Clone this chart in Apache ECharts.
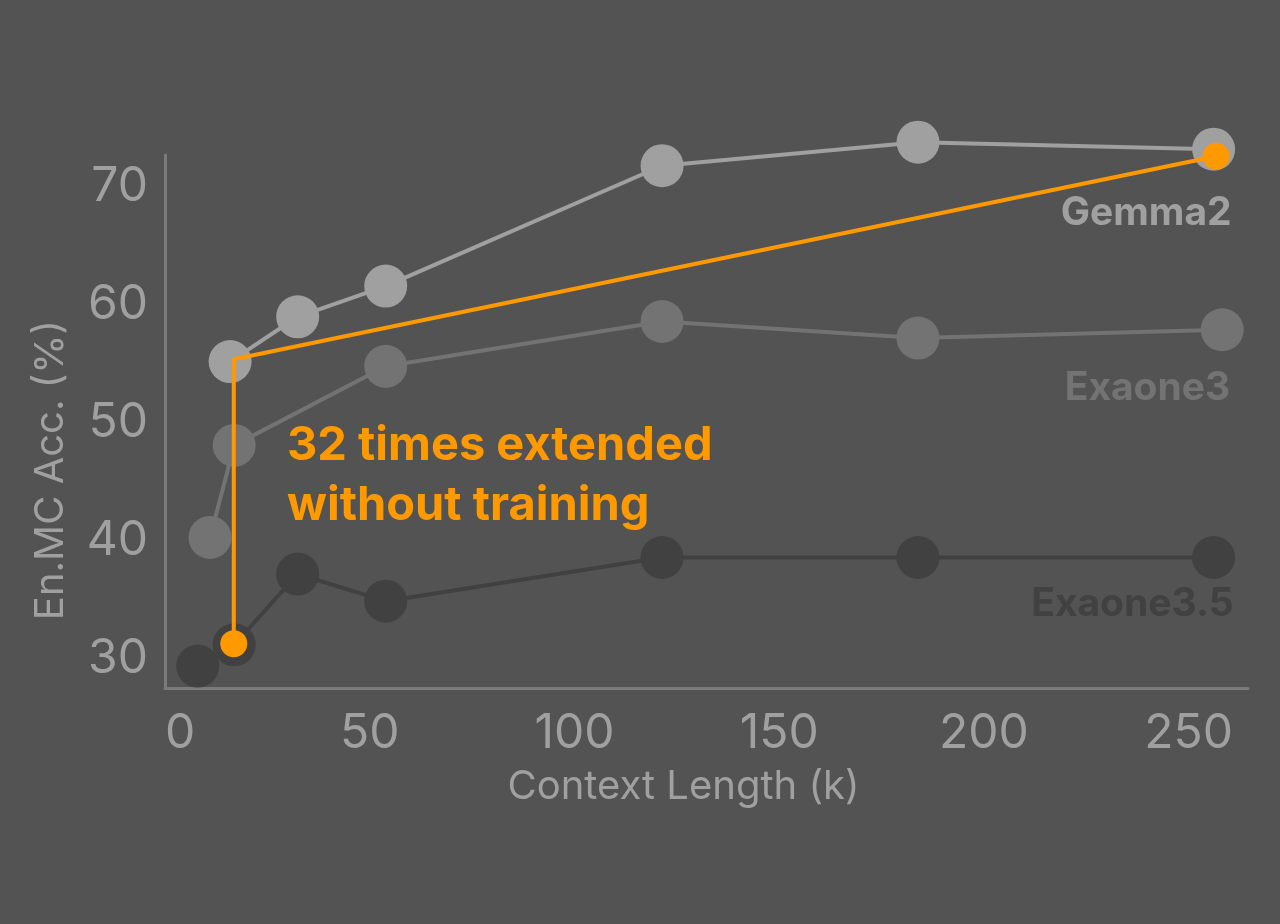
<!DOCTYPE html>
<html>
<head>
<meta charset="utf-8">
<script src="https://cdn.jsdelivr.net/npm/echarts@6/dist/echarts.min.js"></script>
<style>
  html, body { margin: 0; padding: 0; background: #535353; }
  #chart { width: 1280px; height: 924px; }
</style>
</head>
<body>
<div id="chart"></div>
<script>
// ---- data (context length in k, accuracy in %) ----
const gemma2X = [15.9, 32.4, 53.9, 121.4, 183.9, 256.1];
const gemma2Y = [55.2, 59.0, 61.6, 71.8, 73.8, 73.2];

const exaone3X = [11.0, 16.9, 53.9, 121.4, 183.9, 258.2];
const exaone3Y = [40.3, 48.1, 54.8, 58.6, 57.2, 57.9];

const exaone35X = [8.0, 16.9, 32.4, 53.9, 121.4, 183.9, 256.1];
const exaone35Y = [29.4, 31.2, 37.2, 34.9, 38.6, 38.6, 38.6];

const extendX = [16.8, 16.8, 256.7];
const extendY = [31.3, 55.4, 72.6];

const xTicks = [0, 50, 100, 150, 200, 250];
const yTicks = [30, 40, 50, 60, 70];

const seriesNames = ['Gemma2', 'Exaone3', 'Exaone3.5'];
const annotationLines = ['32 times extended', 'without training'];

function pairs(xs, ys) { return xs.map((x, i) => [x, ys[i]]); }

const FONT = 'Inter, "Noto Sans", sans-serif';
const AXIS_COLOR = '#7b7b7b';
const TEXT_COLOR = '#a0a0a0';

function graySeries(name, xs, ys, color, offset, z) {
  const last = xs.length - 1;
  return {
    name: name,
    type: 'line',
    data: pairs(xs, ys),
    symbol: 'circle',
    symbolSize: 43,
    z: z,
    clip: false,
    lineStyle: { color: color, width: 4 },
    itemStyle: { color: color },
    label: {
      show: true,
      formatter: p => (p.dataIndex === last ? name : ''),
      position: ['50%', '50%'],
      align: 'right',
      verticalAlign: 'middle',
      offset: offset,
      color: color,
      fontFamily: FONT,
      fontWeight: 'bold',
      fontSize: 39
    },
    emphasis: { disabled: true },
    silent: true
  };
}

const chart = echarts.init(document.getElementById('chart'), null, { renderer: 'canvas' });

chart.setOption({
  backgroundColor: '#535353',
  animation: false,
  textStyle: { fontFamily: FONT },
  grid: { left: 165, right: 32, top: 155, bottom: 236, containLabel: false, outerBoundsMode: 'none' },
  xAxis: {
    type: 'value',
    min: 0,
    max: 264.5,
    name: 'Context Length (k)',
    nameLocation: 'middle',
    nameGap: 79,
    nameTextStyle: { color: TEXT_COLOR, fontSize: 40, fontFamily: FONT, padding: [0, 46, 0, 0] },
    axisLine: { show: true, lineStyle: { color: AXIS_COLOR, width: 3 } },
    axisTick: { show: false },
    splitLine: { show: false },
    axisLabel: {
      customValues: xTicks,
      alignMinLabel: 'left',
      color: TEXT_COLOR,
      fontSize: 48,
      fontFamily: FONT,
      margin: 22
    }
  },
  yAxis: {
    type: 'value',
    min: 27.54,
    max: 72.71,
    name: 'En.MC Acc. (%)',
    nameLocation: 'middle',
    nameRotate: 90,
    nameGap: 94,
    nameTextStyle: { color: TEXT_COLOR, fontSize: 40, fontFamily: FONT, padding: [0, 97, 0, 0] },
    axisLine: { show: true, lineStyle: { color: AXIS_COLOR, width: 3 } },
    axisTick: { show: false },
    splitLine: { show: false },
    axisLabel: {
      customValues: yTicks,
      color: TEXT_COLOR,
      fontSize: 48,
      fontFamily: FONT,
      margin: 17
    }
  },
  graphic: [{
    type: 'text',
    left: 287,
    top: 416,
    silent: true,
    style: {
      text: annotationLines.join('\n'),
      fill: '#ff9900',
      font: 'bold 47px ' + FONT,
      lineHeight: 60
    }
  }],
  series: [
    graySeries(seriesNames[2], exaone35X, exaone35Y, '#414141', [20, 47], 2),
    graySeries(seriesNames[1], exaone3X, exaone3Y, '#737373', [8, 59], 3),
    graySeries(seriesNames[0], gemma2X, gemma2Y, '#a0a0a0', [18, 64], 4),
    {
      name: 'extended',
      type: 'line',
      data: pairs(extendX, extendY),
      symbol: 'circle',
      symbolSize: (v, p) => (p.dataIndex === 1 ? 0 : 27),
      z: 10,
      clip: false,
      lineStyle: { color: '#ff9900', width: 4 },
      itemStyle: { color: '#ff9900' },
      emphasis: { disabled: true },
      silent: true
    }
  ]
});
</script>
</body>
</html>
